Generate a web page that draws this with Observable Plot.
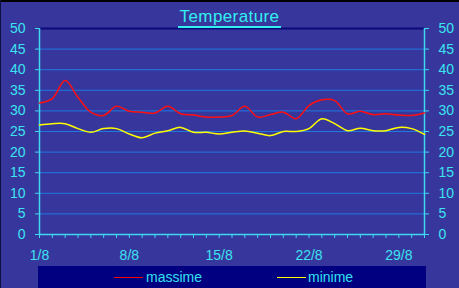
<!DOCTYPE html>
<html>
<head>
<meta charset="utf-8">
<script src="https://cdn.jsdelivr.net/npm/d3@7"></script>
<script src="https://cdn.jsdelivr.net/npm/@observablehq/plot@0.6"></script>
<style>
  html, body { margin: 0; padding: 0; background: #36369c; }
  #wrap { position: relative; width: 459px; height: 288px; overflow: hidden; background: #36369c; font-family: "Liberation Sans", Arial, sans-serif; }
  #topbar { position: absolute; left: 0; top: 0; width: 459px; height: 2px; background: #000; }
  #leftbar { position: absolute; left: 0; top: 0; width: 1px; height: 288px; background: #101040; }
  #title { position: absolute; left: 0; top: 7px; width: 459px; text-align: center; color: #33f0f0; font-size: 17px; letter-spacing: 0.4px; }
  #title span { border-bottom: 2px solid #33f0f0; padding: 0 2px 0 2px; line-height: 19px; display: inline-block; }
  #legend { position: absolute; left: 38px; top: 266px; width: 388px; height: 22px; background: #000080; }
  .item { position: absolute; top: 0; height: 22px; color: #33e0f0; font-size: 14px; line-height: 22px; }
  .sw { position: absolute; top: 11px; width: 29px; height: 1px; }
  #plot { position: absolute; left: 0; top: 0; }
</style>
</head>
<body>
<div id="wrap">
  <div id="plot"></div>
  <div id="topbar"></div>
  <div id="leftbar"></div>
  <div id="title"><span>Temperature</span></div>
  <div id="legend">
    <div class="sw" style="left:76px;background:#ff0000"></div>
    <div class="item" style="left:108px">massime</div>
    <div class="sw" style="left:239px;background:#ffff00"></div>
    <div class="item" style="left:270px">minime</div>
  </div>
</div>
<script>
const days = [1,2,3,4,5,6,7,8,9,10,11,12,13,14,15,16,17,18,19,20,21,22,23,24,25,26,27,28,29,30,31];
const massime = [31.9,33.0,37.4,33.3,29.7,28.9,31.1,29.9,29.7,29.5,31.1,29.3,29.0,28.5,28.5,28.9,31.1,28.5,29.1,29.7,28.1,31.3,32.7,32.5,29.3,29.9,29.1,29.3,29.0,28.9,29.5];
const minime = [26.6,26.9,26.9,25.7,24.8,25.7,25.7,24.4,23.5,24.6,25.2,26.0,24.8,24.8,24.4,24.8,25.1,24.6,24.0,25.0,25.0,25.7,28.1,26.9,25.2,25.8,25.2,25.2,26.0,25.7,24.3];
const yTicks = [0,5,10,15,20,25,30,35,40,45,50];
const xLabelDays = [1,8,15,22,29];

const rowsMax = days.map((d, i) => ({day: d, t: massime[i]}));
const rowsMin = days.map((d, i) => ({day: d, t: minime[i]}));

const cyan = "#3ce4f0";
const axisCol = "#40d8f0";

const chart = Plot.plot({
  width: 459,
  height: 288,
  marginTop: 28,
  marginBottom: 54,
  marginLeft: 39,
  marginRight: 35,
  style: {background: "transparent", color: cyan, fontFamily: "Liberation Sans, Arial, sans-serif", fontSize: "14px"},
  x: {domain: [1, 31]},
  y: {domain: [0, 50]},
  marks: [
    Plot.ruleY(yTicks.filter(v => v > 0 && v < 50), {stroke: "#1f7ae0", strokeWidth: 1}),
    Plot.ruleY([50], {stroke: "#0a0a78", strokeWidth: 2}),
    Plot.axisY({anchor: "left", ticks: yTicks, tickSize: 4, tickPadding: 10, label: null, stroke: axisCol, fill: cyan, fontSize: 14}),
    Plot.axisY({anchor: "right", ticks: yTicks, tickSize: 4, tickPadding: 10, label: null, stroke: axisCol, fill: cyan, fontSize: 14}),
    Plot.axisX({ticks: days, tickSize: 4, tickPadding: 12, label: null, stroke: axisCol, fill: cyan, fontSize: 14,
      tickFormat: d => xLabelDays.includes(d) ? d + "/8" : ""}),
    Plot.ruleX([1], {stroke: axisCol, strokeWidth: 1.5}),
    Plot.ruleX([31], {stroke: axisCol, strokeWidth: 1.5}),
    Plot.ruleY([0], {stroke: axisCol, strokeWidth: 1.5}),
    Plot.line(rowsMax, {x: "day", y: "t", stroke: "#ff1010", strokeWidth: 1.5, curve: "catmull-rom"}),
    Plot.line(rowsMin, {x: "day", y: "t", stroke: "#ffff00", strokeWidth: 1.5, curve: "catmull-rom"})
  ]
});
document.getElementById("plot").appendChild(chart);
</script>
</body>
</html>
